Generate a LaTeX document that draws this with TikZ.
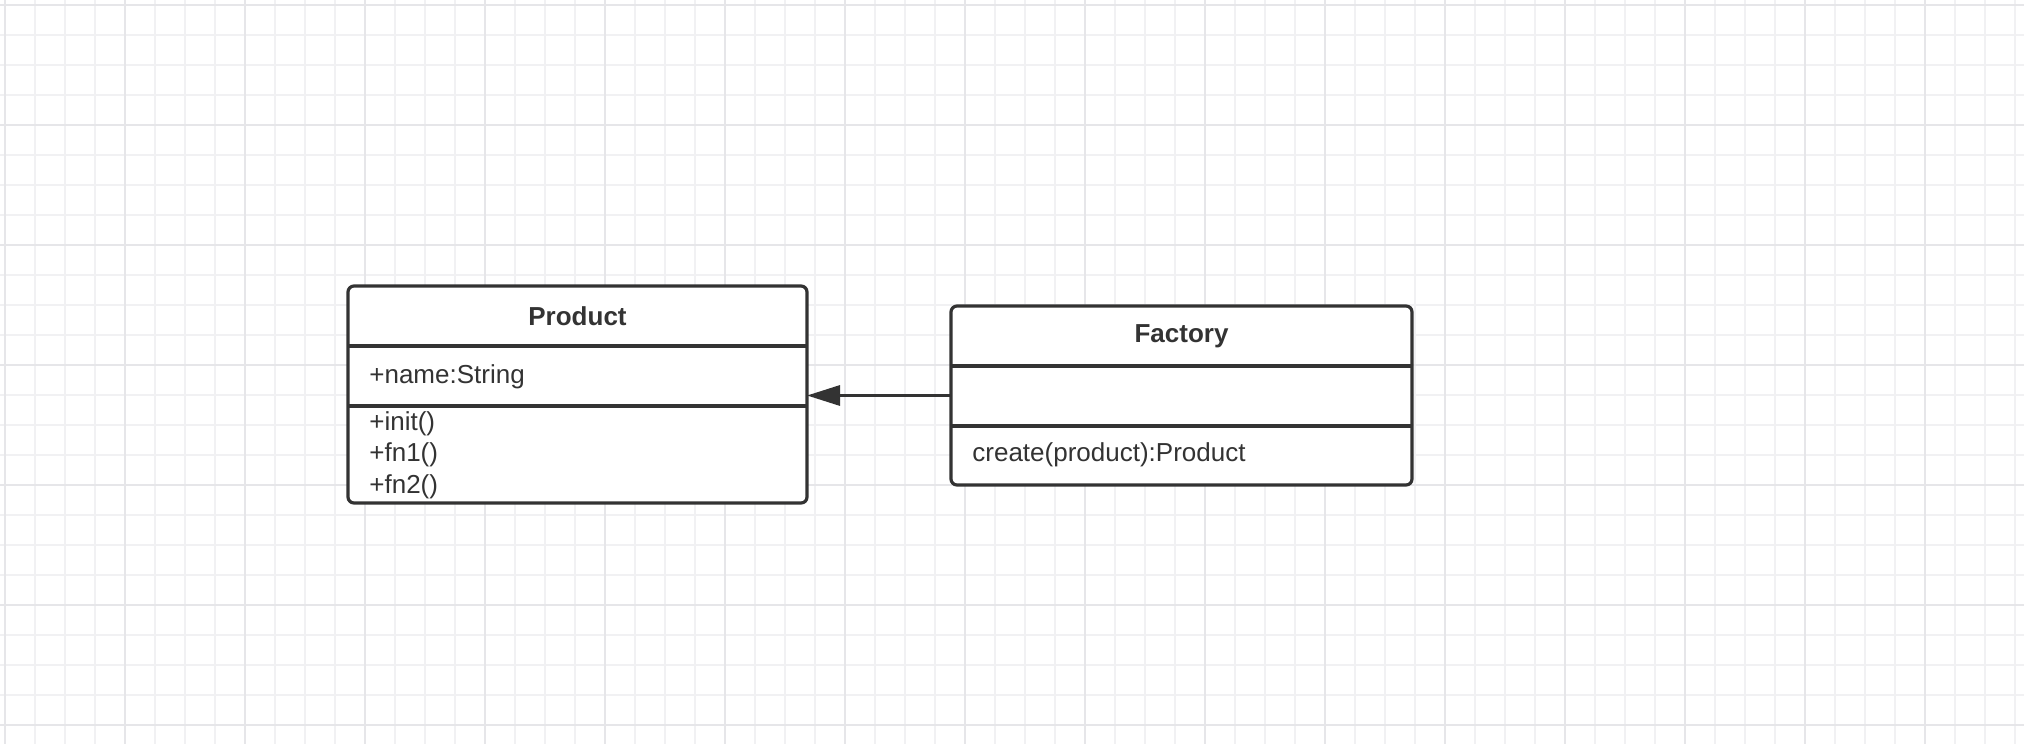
\documentclass[tikz,border=0pt]{standalone}
\usepackage{fontspec}
\setmainfont{Liberation Sans}
\usetikzlibrary{arrows.meta}
\definecolor{gridminor}{HTML}{F1F1F3}
\definecolor{gridmajor}{HTML}{E6E6E9}
\definecolor{umlline}{HTML}{333333}

\begin{document}
\begin{tikzpicture}[x=0.5pt, y=-0.5pt,
    umlbox/.style={draw=umlline, line width=1.6pt, rounded corners=3pt, fill=white,
      inner sep=0pt, outer sep=0pt},
    umltext/.style={text=umlline, font=\fontsize{13}{15}\selectfont, inner sep=0pt},
    umltitle/.style={umltext, font=\fontsize{13}{15}\selectfont\bfseries},
    divider/.style={draw=umlline, line width=1.6pt}]
      \useasboundingbox (0,0) rectangle (2024,744);
      \fill[white] (0,0) rectangle (2024,744);

      % grid
      \foreach \gx in {0,...,67}
        \draw[gridminor, line width=1pt] (5+30*\gx, 0) -- (5+30*\gx, 744);
      \foreach \gy in {0,...,24}
        \draw[gridminor, line width=1pt] (0, 5+30*\gy) -- (2024, 5+30*\gy);
      \foreach \gx in {0,...,16}
        \draw[gridmajor, line width=1.4pt] (5+120*\gx, 0) -- (5+120*\gx, 744);
      \foreach \gy in {0,...,6}
        \draw[gridmajor, line width=1.4pt] (0, 5+120*\gy) -- (2024, 5+120*\gy);

      % Product
      \node[umlbox, minimum width=229.5pt, minimum height=108.5pt] (product) at (577.5, 394.5) {};
      \draw[divider] (348, 346)--(807, 346);
      \draw[divider] (348, 406)--(807, 406);
      \node[umltitle] (producttitle) at (577.5, 316) {Product};
      \node[umltext, anchor=west] (productname) at (369, 377) {+name:String};
      \node[umltext, anchor=west] (productinit) at (369, 424) {+init()};
      \node[umltext, anchor=west] (productfna) at (369, 455) {+fn1()};
      \node[umltext, anchor=west] (productfnb) at (369, 487) {+fn2()};

      % Factory
      \node[umlbox, minimum width=230.5pt, minimum height=89.5pt] (factory) at (1181.5, 395.5) {};
      \draw[divider] (951, 366)--(1412, 366);
      \draw[divider] (951, 426)--(1412, 426);
      \node[umltitle] (factorytitle) at (1181.5, 336) {Factory};
      \node[umltext, anchor=west] (factorycreate) at (972, 455) {create(product):Product};

      \draw[-{Triangle[length=16.5pt, width=10pt]}, umlline, line width=1.6pt]
        (factory.west)--(factory.west -| product.east);
    \end{tikzpicture}
\end{document}
